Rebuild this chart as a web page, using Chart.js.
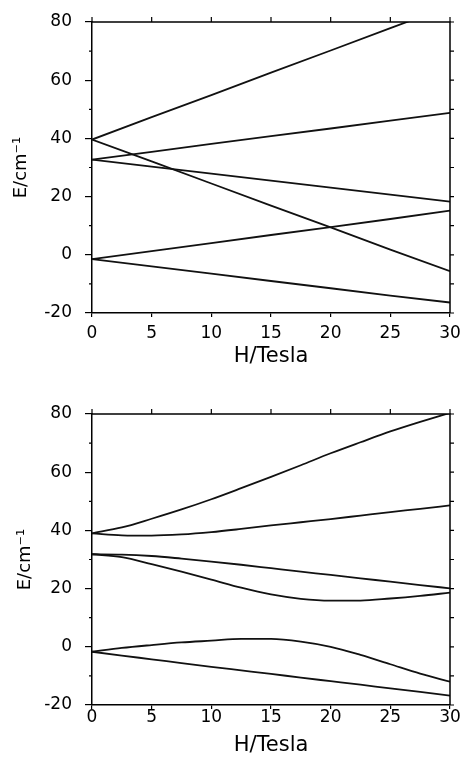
<!DOCTYPE html>
<html lang="en">
<head>
<meta charset="UTF-8">
<title>E vs H</title>
<script src="https://cdn.jsdelivr.net/npm/chart.js"></script>
<style>
    body {
        margin: 0;
        background: #fff;
    }
    .panel {
        position: absolute;
        left: 0;
        width: 463px;
    }
    #top { top: 0; height: 370px; }
    #bottom { top: 370px; height: 388px; }
</style>
</head>
<body>
<div class="panel" id="top"><canvas id="chartTop" width="463" height="370"></canvas></div>
<div class="panel" id="bottom"><canvas id="chartBottom" width="463" height="388"></canvas></div>
<script>
// field values (Tesla)
const hTop = [0, 5, 10, 15, 20, 25, 30];
const hBottom = [0, 2.5, 5, 7.5, 10, 12.5, 15, 17.5, 20, 22.5, 25, 27.5, 30];

// upper panel: straight levels (cm-1)
const topA = [39.6, 47.3, 54.9, 62.6, 70.2, 77.9, 85.5];
const topB = [32.7, 35.4, 38.1, 40.8, 43.4, 46.1, 48.8];
const topC = [39.6, 32.1, 24.5, 16.9, 9.4, 1.8, -5.6];
const topD = [-1.5, 1.3, 4.0, 6.8, 9.5, 12.3, 15.2];
const topE = [-1.5, -4.0, -6.5, -9.0, -11.5, -14.0, -16.4];
const topF = [32.7, 30.3, 27.9, 25.5, 23.1, 20.7, 18.3];

// lower panel: curved levels (cm-1)
const bot1 = [39.0, 41.0, 44.0, 47.2, 50.7, 54.5, 58.4, 62.4, 66.5, 70.3, 74.0, 77.3, 80.4];
const bot2 = [39.0, 38.3, 38.2, 38.6, 39.4, 40.5, 41.7, 42.8, 43.9, 45.1, 46.3, 47.4, 48.6];
const bot3 = [31.8, 31.7, 31.2, 30.3, 29.3, 28.2, 27.0, 25.8, 24.7, 23.5, 22.4, 21.2, 20.1];
const bot4 = [31.8, 30.8, 28.4, 25.8, 23.1, 20.3, 18.0, 16.5, 15.9, 15.9, 16.6, 17.5, 18.6];
const bot5 = [-1.7, -0.4, 0.6, 1.5, 2.1, 2.7, 2.7, 1.8, 0.0, -2.8, -6.0, -9.2, -12.0];
const bot6 = [-1.7, -3.0, -4.3, -5.6, -6.9, -8.1, -9.3, -10.6, -11.8, -13.0, -14.3, -15.5, -16.8];

const xTitle = 'H/Tesla';
const yTitle = 'E/cm\u207B\u00B9';

// frame on top/right plus the small ticks Chart.js has no option for
const frameTicks = {
    id: 'frameTicks',
    afterDraw(chart) {
        const { ctx, chartArea: a, scales: { x, y } } = chart;
        ctx.save();
        ctx.strokeStyle = '#000';
        ctx.lineWidth = 1.5;
        ctx.beginPath();
        ctx.moveTo(a.left, a.top);
        ctx.lineTo(a.right, a.top);
        ctx.lineTo(a.right, a.bottom);
        ctx.stroke();

        ctx.lineWidth = 1.2;
        ctx.beginPath();
        x.ticks.forEach(t => {
            const px = x.getPixelForValue(t.value);
            ctx.moveTo(px, a.top);
            ctx.lineTo(px, a.top - 5);
        });
        y.ticks.forEach(t => {
            const py = y.getPixelForValue(t.value);
            ctx.moveTo(a.right, py);
            ctx.lineTo(a.right + 4, py);
            if (t.value < y.max) {
                const pm = y.getPixelForValue(t.value + 10);
                ctx.moveTo(a.left, pm);
                ctx.lineTo(a.left - 3, pm);
                ctx.moveTo(a.right, pm);
                ctx.lineTo(a.right + 4, pm);
            }
        });
        ctx.stroke();
        ctx.restore();
    }
};

function makeSets(h, series, smooth) {
    return series.map(s => ({
        data: s.map((v, i) => ({ x: h[i], y: v })),
        borderColor: '#111',
        borderWidth: 1.8,
        pointRadius: 0,
        fill: false,
        tension: 0,
        cubicInterpolationMode: smooth ? 'monotone' : 'default'
    }));
}

function makeChart(id, datasets, pad, xHeight, tickPad, xTitlePad, yTitlePad) {
    return new Chart(document.getElementById(id), {
        type: 'line',
        data: { datasets: datasets },
        options: {
            responsive: false,
            animation: false,
            devicePixelRatio: 1,
            layout: { padding: { top: pad, right: 13, left: 0, bottom: 0 } },
            plugins: { legend: { display: false }, tooltip: { enabled: false } },
            scales: {
                x: {
                    type: 'linear',
                    min: 0,
                    max: 30,
                    afterFit: s => {
                        s.height = xHeight;
                        s.paddingLeft = 0;
                        s.paddingRight = 0;
                    },
                    ticks: {
                        stepSize: 5,
                        color: '#000',
                        padding: tickPad,
                        maxRotation: 0,
                        font: { family: 'DejaVu Sans', size: 17 }
                    },
                    grid: { drawOnChartArea: false, color: '#000', lineWidth: 1.2, tickLength: 4 },
                    border: { color: '#000', width: 1.5 },
                    title: {
                        display: true,
                        text: xTitle,
                        color: '#000',
                        padding: { top: 0, bottom: xTitlePad },
                        font: { family: 'DejaVu Sans', size: 21 }
                    }
                },
                y: {
                    min: -20,
                    max: 80,
                    afterFit: s => {
                        s.width = 92;
                        s.paddingTop = 0;
                        s.paddingBottom = 0;
                    },
                    ticks: {
                        stepSize: 20,
                        color: '#000',
                        padding: 13,
                        font: { family: 'DejaVu Sans', size: 17 }
                    },
                    grid: { drawOnChartArea: false, color: '#000', lineWidth: 1.2, tickLength: 7 },
                    border: { color: '#000', width: 1.5 },
                    title: {
                        display: true,
                        text: yTitle,
                        color: '#000',
                        padding: { top: yTitlePad, bottom: 0 },
                        font: { family: 'DejaVu Sans', size: 18 }
                    }
                }
            }
        },
        plugins: [frameTicks]
    });
}

makeChart('chartTop', makeSets(hTop, [topA, topB, topC, topD, topE, topF], false), 22, 57, 6, 1, 11);
makeChart('chartBottom', makeSets(hBottom, [bot1, bot2, bot3, bot4, bot5, bot6], true), 44, 53, -2, 0, 15);
</script>
</body>
</html>
